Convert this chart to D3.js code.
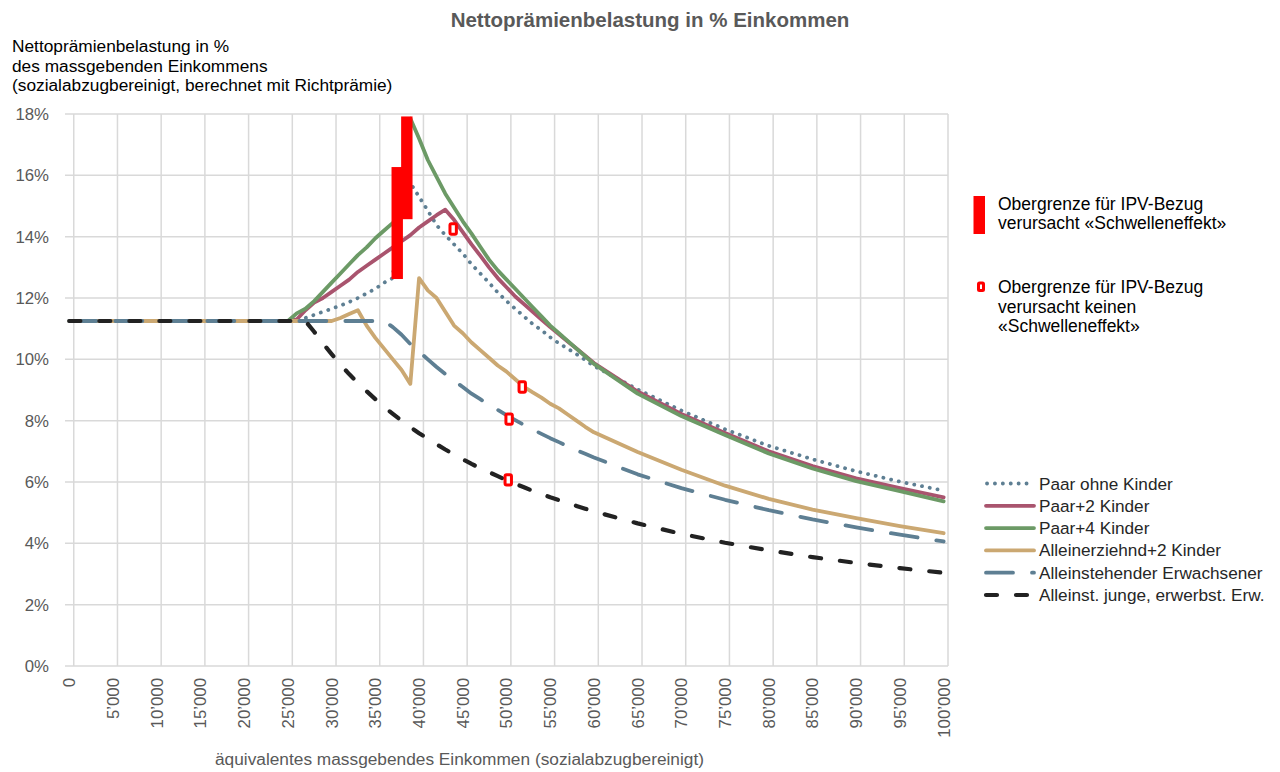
<!DOCTYPE html>
<html>
<head>
<meta charset="utf-8">
<script src="https://cdn.jsdelivr.net/npm/d3@7"></script>
<style>
  body { margin: 0; background: #fff; }
  text { font-family: "Liberation Sans", Arial, sans-serif; }
</style>
</head>
<body>
<div id="chart"></div>
<script>
// income categories (CHF) and values in % of income
var incomes = [0, 25000, 26000, 27000, 28000, 29000, 30000, 31000, 32000, 33000, 34000, 35000, 36000,
  37000, 38000, 39000, 40000, 41000, 42000, 43000, 44000, 45000, 46000, 47000, 48000, 49000, 50000,
  51000, 52000, 53000, 54000, 55000, 56000, 57000, 58000, 59000, 60000,
  65000, 70000, 75000, 80000, 85000, 90000, 95000, 100000]

var paarOhneKinder = [11.25, 11.25, 11.25, 11.35, 11.45, 11.55, 11.65, 11.75, 11.87, 12.0, 12.15, 12.3, 12.5,
  12.65, 16.25, 15.75, 15.3, 14.85, 14.38, 14.05, 13.75, 13.45, 13.1, 12.8, 12.5, 12.18, 11.9,
  11.65, 11.4, 11.15, 10.95, 10.72, 10.52, 10.35, 10.17, 9.98, 9.78,
  9.02, 8.33, 7.72, 7.18, 6.74, 6.35, 6.01, 5.72]

var paar2Kinder = [11.25, 11.25, 11.3, 11.6, 11.85, 12.0, 12.2, 12.4, 12.6, 12.85, 13.05, 13.25, 13.45,
  13.65, 13.85, 14.05, 14.3, 14.5, 14.7, 14.88, 14.55, 14.15, 13.75, 13.38, 13.0, 12.65, 12.35,
  12.05, 11.8, 11.55, 11.3, 11.05, 10.82, 10.58, 10.35, 10.12, 9.88,
  8.95, 8.22, 7.6, 7.0, 6.52, 6.12, 5.8, 5.5]

var paar4Kinder = [11.25, 11.25, 11.5, 11.65, 11.9, 12.2, 12.5, 12.8, 13.1, 13.4, 13.65, 13.95, 14.2,
  14.45, 14.65, 17.85, 17.2, 16.5, 15.95, 15.4, 14.95, 14.5, 14.1, 13.67, 13.25, 12.9, 12.6,
  12.3, 12.0, 11.7, 11.4, 11.1, 10.85, 10.6, 10.35, 10.1, 9.85,
  8.88, 8.15, 7.53, 6.93, 6.44, 6.03, 5.7, 5.37]

var alleinerziehend2 = [11.25, 11.25, 11.25, 11.25, 11.25, 11.25, 11.25, 11.35, 11.48, 11.6, 11.1, 10.7, 10.35,
  10.0, 9.65, 9.2, 12.65, 12.25, 12.0, 11.55, 11.1, 10.85, 10.55, 10.3, 10.05, 9.8, 9.6,
  9.35, 9.1, 8.92, 8.75, 8.55, 8.4, 8.2, 8.0, 7.8, 7.62,
  6.98, 6.4, 5.88, 5.45, 5.1, 4.82, 4.56, 4.33]

var alleinstehend = [11.25, 11.25, 11.25, 11.25, 11.25, 11.25, 11.25, 11.25, 11.25, 11.25, 11.25, 11.25, 11.25,
  11.05, 10.8, 10.5, 10.25, 10.0, 9.75, 9.52, 9.3, 9.1, 8.88, 8.7, 8.52, 8.35, 8.18,
  8.02, 7.86, 7.71, 7.57, 7.43, 7.3, 7.17, 7.04, 6.92, 6.8,
  6.25, 5.8, 5.42, 5.08, 4.78, 4.52, 4.28, 4.06]

var alleinstJung = [11.25, 11.25, 11.25, 11.25, 10.9, 10.52, 10.17, 9.83, 9.52, 9.23, 8.96, 8.7, 8.45,
  8.22, 8.0, 7.79, 7.59, 7.41, 7.23, 7.06, 6.9, 6.74, 6.59, 6.45, 6.32, 6.19, 6.06,
  5.94, 5.83, 5.71, 5.61, 5.5, 5.41, 5.31, 5.22, 5.13, 5.04,
  4.65, 4.31, 4.02, 3.77, 3.55, 3.36, 3.19, 3.04]

var seriesNames = ['Paar ohne Kinder', 'Paar+2 Kinder', 'Paar+4 Kinder', 'Alleinerziehnd+2 Kinder',
  'Alleinstehender Erwachsener', 'Alleinst. junge, erwerbst. Erw.']

// "Schwelleneffekt" bars (income, low %, high %)
var schwelleX = [37500, 38600]
var schwelleLow = [12.62, 14.57]
var schwelleHigh = [16.27, 17.92]

// thresholds without "Schwelleneffekt"
var keinX = [43900, 51800, 50300, 50200]
var keinY = [14.25, 9.1, 8.05, 6.07]

var yTicks = [0, 2, 4, 6, 8, 10, 12, 14, 16, 18]
var xTicks = [0, 5000, 10000, 15000, 20000, 25000, 30000, 35000, 40000, 45000, 50000,
  55000, 60000, 65000, 70000, 75000, 80000, 85000, 90000, 95000, 100000]

var width = 1280
var height = 772
var grey = '#595959'
var red = '#ff0000'

var svg = d3.select('#chart')
  .append('svg')
  .attr('width', width)
  .attr('height', height)

// category-like axis: each income takes one slot of 1000
var x = d3.scaleLinear().domain([-500, 100500]).range([65, 948])
var y = d3.scaleLinear().domain([0, 18]).range([666, 114])
var half = (x(1000) - x(0)) / 2

// gridlines
svg.append('g')
  .selectAll('line')
  .data(yTicks)
  .enter()
  .append('line')
  .attr('x1', x(-500)).attr('x2', x(100500))
  .attr('y1', function (d) { return y(d) }).attr('y2', function (d) { return y(d) })
  .attr('stroke', '#d9d9d9')
  .attr('stroke-width', 1.5)

svg.append('g')
  .selectAll('line')
  .data(xTicks)
  .enter()
  .append('line')
  .attr('x1', function (d) { return x(d) + half }).attr('x2', function (d) { return x(d) + half })
  .attr('y1', y(0)).attr('y2', y(18))
  .attr('stroke', '#d9d9d9')
  .attr('stroke-width', 1.5)

// y tick labels
svg.append('g')
  .selectAll('text')
  .data(yTicks)
  .enter()
  .append('text')
  .attr('x', 49)
  .attr('y', function (d) { return y(d) })
  .attr('dy', '0.35em')
  .attr('text-anchor', 'end')
  .attr('fill', grey)
  .style('font-size', '16.8px')
  .text(function (d) { return d + '%' })

// x tick labels, rotated
var fmt = function (d) { return d3.format(',')(d).replace(/,/g, '\u2019') }
svg.append('g')
  .selectAll('text')
  .data(xTicks)
  .enter()
  .append('text')
  .attr('transform', function (d) { return 'translate(' + x(d) + ',678) rotate(-90)' })
  .attr('dy', '0.35em')
  .attr('text-anchor', 'end')
  .attr('fill', grey)
  .style('font-size', '16.8px')
  .text(fmt)

// titles
svg.append('text')
  .attr('x', 650).attr('y', 27)
  .attr('text-anchor', 'middle')
  .attr('fill', grey)
  .style('font-size', '20.5px')
  .style('font-weight', 'bold')
  .text('Nettoprämienbelastung in % Einkommen')

var yTitle = ['Nettoprämienbelastung in %', 'des massgebenden Einkommens',
  '(sozialabzugbereinigt, berechnet mit Richtprämie)']
svg.append('g')
  .selectAll('text')
  .data(yTitle)
  .enter()
  .append('text')
  .attr('x', 12)
  .attr('y', function (d, i) { return 52 + i * 19.6 })
  .attr('fill', '#000')
  .style('font-size', '17.3px')
  .text(function (d) { return d })

svg.append('text')
  .attr('x', 215).attr('y', 765)
  .attr('fill', grey)
  .style('font-size', '17.3px')
  .text('äquivalentes massgebendes Einkommen (sozialabzugbereinigt)')

// series styles
var series = [paarOhneKinder, paar2Kinder, paar4Kinder, alleinerziehend2, alleinstehend, alleinstJung]
var colors = ['#5e7f93', '#a9546e', '#6c9a66', '#cba872', '#5e7f93', '#222222']
var widths = [3.8, 3.8, 3.8, 3.8, 3.8, 4.2]
var dashes = ['0.1 7.8', null, null, null, '27 19', '11 19']

var line = d3.line()
  .x(function (d, i) { return x(incomes[i]) })
  .y(function (d) { return y(d) })

svg.append('g')
  .selectAll('path')
  .data(series)
  .enter()
  .append('path')
  .attr('d', line)
  .attr('fill', 'none')
  .attr('stroke', function (d, i) { return colors[i] })
  .attr('stroke-width', function (d, i) { return widths[i] })
  .attr('stroke-dasharray', function (d, i) { return dashes[i] })
  .attr('stroke-linecap', 'round')
  .attr('stroke-linejoin', 'round')

// Schwelleneffekt bars
svg.append('g')
  .selectAll('rect')
  .data(schwelleX)
  .enter()
  .append('rect')
  .attr('x', function (d) { return x(d) - 5.7 })
  .attr('width', 11.4)
  .attr('y', function (d, i) { return y(schwelleHigh[i]) })
  .attr('height', function (d, i) { return y(schwelleLow[i]) - y(schwelleHigh[i]) })
  .attr('fill', red)

// hollow markers
svg.append('g')
  .selectAll('rect')
  .data(keinX)
  .enter()
  .append('rect')
  .attr('x', function (d) { return x(d) - 3.2 })
  .attr('y', function (d, i) { return y(keinY[i]) - 5.2 })
  .attr('width', 6.4)
  .attr('height', 10.4)
  .attr('rx', 1.5)
  .attr('fill', '#fff')
  .attr('stroke', red)
  .attr('stroke-width', 3)

// upper legend
var legTop = svg.append('g')
legTop.append('rect')
  .attr('x', 973.5).attr('y', 196).attr('width', 11.5).attr('height', 38)
  .attr('fill', red)
legTop.append('rect')
  .attr('x', 978.5).attr('y', 283).attr('width', 5).attr('height', 7.5).attr('rx', 1)
  .attr('fill', '#fff').attr('stroke', red).attr('stroke-width', 3)

var legTopText = [
  { y: 210, t: 'Obergrenze für IPV-Bezug' },
  { y: 228.5, t: 'verursacht «Schwelleneffekt»' },
  { y: 293, t: 'Obergrenze für IPV-Bezug' },
  { y: 313, t: 'verursacht keinen' },
  { y: 332, t: '«Schwelleneffekt»' }
]
legTop.selectAll('text')
  .data(legTopText)
  .enter()
  .append('text')
  .attr('x', 998)
  .attr('y', function (d) { return d.y })
  .attr('fill', '#000')
  .style('font-size', '17.5px')
  .text(function (d) { return d.t })

// series legend
var legend = svg.append('g')
var rows = legend.selectAll('g')
  .data(seriesNames)
  .enter()
  .append('g')
  .attr('transform', function (d, i) { return 'translate(0,' + (483.5 + i * 22.3) + ')' })

rows.append('line')
  .attr('x1', function (d, i) { return i === 0 ? 987 : 986 })
  .attr('x2', 1034)
  .attr('stroke', function (d, i) { return colors[i] })
  .attr('stroke-width', function (d, i) { return widths[i] })
  .attr('stroke-dasharray', function (d, i) { return dashes[i] })
  .attr('stroke-linecap', 'round')

rows.append('text')
  .attr('x', 1039)
  .attr('dy', '0.35em')
  .attr('fill', '#262626')
  .style('font-size', '17.2px')
  .text(function (d) { return d })
</script>
</body>
</html>
